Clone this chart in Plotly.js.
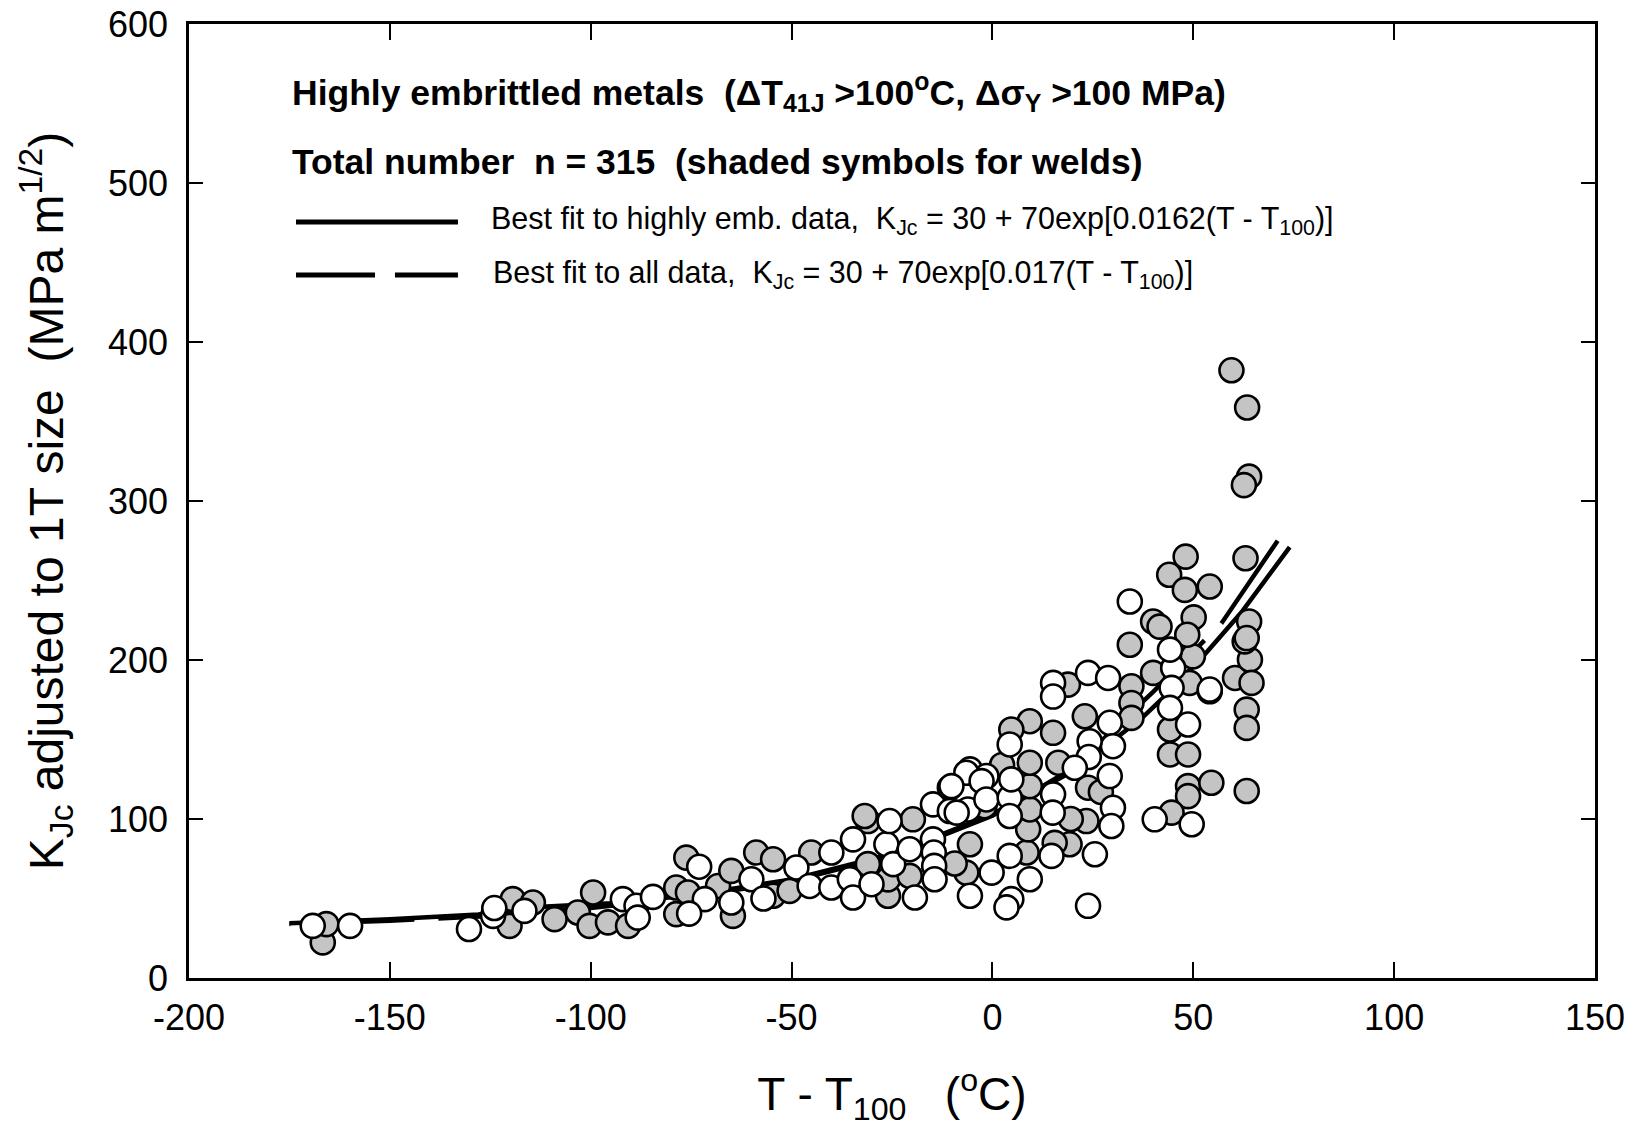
<!DOCTYPE html>
<html>
<head>
<meta charset="utf-8">
<script src="https://cdn.plot.ly/plotly-3.0.1.min.js"></script>
<style>html,body{margin:0;padding:0;background:#fff;}#chart{width:1642px;height:1127px;}</style>
</head>
<body>
<div id="chart"></div>
<script>
// ---- Data ----
// Base metals (open symbols)
const openX = [-169.2,-159.9,-130.3,-124.3,-124,-116.5,-92,-88.6,-88.3,-84.5,-73,-71.6,-75.5,-65,-60,-57,-48.8,-45.5,-40.1,-40.1,-34.7,-35.5,-34.7,-30.1,-26.4,-25.6,-24.7,-20.6,-19.3,-14.8,-14.8,-14.6,-14.5,-14.4,-10.6,-10.6,-6.1,-5.6,-1.5,-5.6,-0.2,-6.5,-2.7,-10.2,-1.5,
  15.1,15.1,23.8,28.8,45,44.6,44.2,48.7,44.2,34.2,54.1,29.2,30,29.2,24.2,24,20.5,15.1,15,14.7,9.3,4.7,3.5,4.3,4.3,4.7,4.3,4.3,-8.9,23.8,25.5,30,29.6,40.4,49.6];
const openY = [32.8,32.8,30.8,39.1,44,42.2,49.6,45.4,38,51,70,49.6,40.5,47.5,62.1,50,69.5,57.9,78.9,56.9,87.2,62.1,50.6,59,84.1,98.7,71.6,81,50.6,109.2,87.2,78.9,70.5,62.1,119.7,105,106,131.2,127,51.7,66.3,129.1,123.8,120.7,112.3,
  185.6,177,191.9,188.7,195,182.5,169.9,159.4,206.5,236.8,181.4,160.5,145.8,127,148.9,139,132.2,115.5,104,76.8,62.1,49.6,44.4,76.8,113.4,124.9,101.9,146.9,104,45.4,77.8,107.1,95.6,99.8,96.7];

// Welds (shaded symbols)
const weldX = [-166.7,-165.8,-119.4,-120.2,-114.4,-109,-99.4,-103.2,-100.3,-95.7,-90.7,-76.2,-78.7,-78.7,-75.8,-68.3,-65,-64.6,-58.8,-54.6,-54.6,-50.5,-45.1,-31,-31,-26,-26,-19.8,-20.6,-5.6,-6.5,-9.4,-31.8,-2,
  34.2,18.8,34.6,34.6,34.6,40,49.1,49.9,44.2,44.2,48.7,54.1,60.4,64.1,64.5,63.3,63.3,62.8,48.7,48.7,54.5,44.6,63.3,23.4,23.8,23,16.4,19.2,15.5,8.5,8.9,9.3,9.3,9.3,9.3,27,19.5,
  59.5,63.4,63.9,62.6,63,48.1,44,47.9,54.1,40,41.6,50.1,48.5,63.9,63.3,15.1,4.7,2.4];
const weldY = [22.4,33.9,49.6,32.8,47.5,37,53.8,41.2,32.8,35,32.8,75.7,56.9,40.2,53.8,57.9,67.4,39.1,78.9,74.7,51.7,54.8,78.9,98.7,71.6,51.7,62,99.8,64.2,84.1,66.3,72,101.9,108,
  209.6,184.5,183.5,173,163.6,191.9,185.6,202.3,156.3,140.6,140.6,180.3,188.7,200.2,185.6,168.8,157.3,211.7,120.7,114.4,122.8,104,117.6,98.7,119.7,164.6,135.4,84.1,85,78.9,93.5,106,120.7,135.4,161.5,117,100,
  382.2,358.8,315.3,310,264,265,253.6,244.1,246.2,224.2,221,226.8,215.9,224.2,213.8,154.2,156.3,134];

// Best-fit curves as drawn
const fitHighX = [-175,-150,-128,-111,-95,-75,-50,-25,0,20,37,42,53,62,74];
const fitHighY = [34.5,37,40,45,47,52,62,78,103,130,163,175,204,230,271];
// listed from the upper end downwards, as read
const fitAllX = [71,57,40,20,0,-25,-50,-75,-100,-125,-150,-175];
const fitAllY = [275,223,180,132,102,77,61,51,44,39,36,34];

// Axis ticks
const xTicks = [-200,-150,-100,-50,0,50,100,150];
const yTicks = [0,100,200,300,400,500,600];

// ---- Text ----
const heading1 = "<b>Highly embrittled metals  (\u0394T<sub>41J</sub> >100<sup>o</sup>C, \u0394\u03c3<sub>Y</sub> >100 MPa)</b>";
const heading2 = "<b>Total number  n = 315  (shaded symbols for welds)</b>";
const legend1 = "Best fit to highly emb. data,  K<sub>Jc</sub> = 30 + 70exp[0.0162(T - T<sub>100</sub>)]";
const legend2 = "Best fit to all data,  K<sub>Jc</sub> = 30 + 70exp[0.017(T - T<sub>100</sub>)]";

const narrow = "'Liberation Sans Narrow', 'Arial Narrow', 'Liberation Sans', Arial, sans-serif";
const sans = "'Liberation Sans', Arial, sans-serif";

const traces = [
  {x: fitAllX, y: fitAllY, mode: 'lines', line: {color: '#000', width: 4.5, dash: '100px,24px'}, hoverinfo: 'skip', showlegend: false},
  {x: fitHighX, y: fitHighY, mode: 'lines', line: {color: '#000', width: 4.5}, hoverinfo: 'skip', showlegend: false},
  {x: weldX, y: weldY, mode: 'markers', marker: {symbol: 'circle', size: 24, color: '#c4c4c4', line: {color: '#000', width: 2.6}}, showlegend: false},
  {x: openX, y: openY, mode: 'markers', marker: {symbol: 'circle', size: 24, color: '#ffffff', line: {color: '#000', width: 2.6}}, showlegend: false}
];

const layout = {
  width: 1642, height: 1127,
  margin: {l: 189, r: 47, t: 24, b: 149},
  paper_bgcolor: '#fff', plot_bgcolor: '#fff',
  font: {family: sans, color: '#000'},
  showlegend: false,
  xaxis: {
    range: [-200, 150], tickvals: xTicks, ticktext: xTicks.map(String),
    ticks: 'inside', ticklen: 16, tickwidth: 2, tickcolor: '#000',
    showline: true, linewidth: 2.8, linecolor: '#000', mirror: 'ticks',
    showgrid: false, zeroline: false,
    tickfont: {size: 36, family: sans}, ticklabelstandoff: 6,
    title: {text: "T - T<sub>100</sub>   (<sup>o</sup>C)", font: {size: 46, family: sans}, standoff: 46}
  },
  yaxis: {
    range: [0, 600], tickvals: yTicks, ticktext: yTicks.map(String),
    ticks: 'inside', ticklen: 14, tickwidth: 2, tickcolor: '#000',
    showline: true, linewidth: 2.8, linecolor: '#000', mirror: 'ticks',
    showgrid: false, zeroline: false,
    tickfont: {size: 36, family: sans}, ticklabelstandoff: 11,
    title: {text: "K<sub>Jc</sub> adjusted to 1T size  (MPa m<sup>1/2</sup>)", font: {size: 48, family: sans}, standoff: 30}
  },
  annotations: [
    {xref: 'paper', yref: 'paper', x: 0.0718, y: 0.9277, xanchor: 'left', yanchor: 'middle', showarrow: false, text: heading1, font: {size: 35.5, family: narrow}},
    {xref: 'paper', yref: 'paper', x: 0.0718, y: 0.8553, xanchor: 'left', yanchor: 'middle', showarrow: false, text: heading2, font: {size: 35.5, family: narrow}},
    {xref: 'paper', yref: 'paper', x: 0.2134, y: 0.7945, xanchor: 'left', yanchor: 'middle', showarrow: false, text: legend1, font: {size: 30.5, family: narrow}},
    {xref: 'paper', yref: 'paper', x: 0.2148, y: 0.7379, xanchor: 'left', yanchor: 'middle', showarrow: false, text: legend2, font: {size: 30.5, family: narrow}}
  ],
  shapes: [
    {type: 'line', xref: 'paper', yref: 'paper', x0: 0.0761, x1: 0.1913, y0: 0.7925, y1: 0.7925, line: {color: '#000', width: 5}},
    {type: 'line', xref: 'paper', yref: 'paper', x0: 0.0761, x1: 0.1323, y0: 0.7369, y1: 0.7369, line: {color: '#000', width: 5}},
    {type: 'line', xref: 'paper', yref: 'paper', x0: 0.1465, x1: 0.1913, y0: 0.7369, y1: 0.7369, line: {color: '#000', width: 5}}
  ]
};

Plotly.newPlot('chart', traces, layout, {displayModeBar: false, staticPlot: true});
</script>
</body>
</html>
